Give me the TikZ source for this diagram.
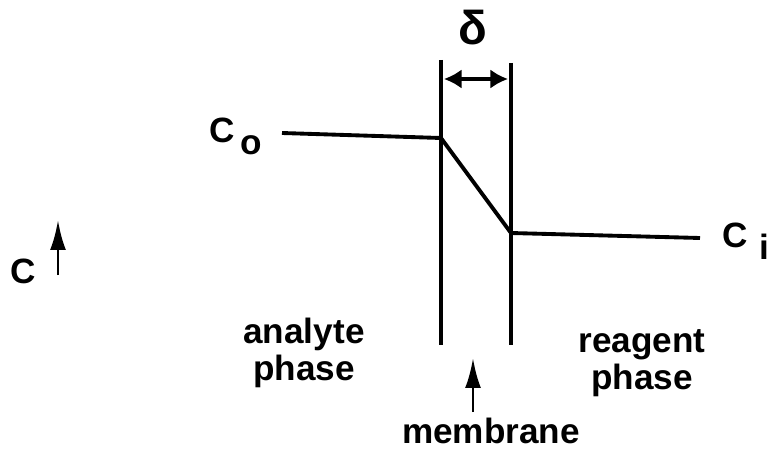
\documentclass[tikz,border=0pt]{standalone}
\usepackage{fontspec}
\setmainfont{Liberation Sans}
\usetikzlibrary{arrows.meta}

\begin{document}
\begin{tikzpicture}[x=0.02cm, y=-0.02cm,
    lbl/.style={font=\fontsize{20}{21}\selectfont\bfseries, align=center, inner sep=0pt},
    wall/.style={line width=2.2pt},
    prof/.style={line width=2.2pt},
    uparr/.style={line width=1.7pt, -{Latex[length=17pt,width=9pt]}},
    dblarr/.style={line width=1.8pt, {Latex[length=10pt,width=11pt]}-{Latex[length=10pt,width=11pt]}}]
  \useasboundingbox (0,0) rectangle (771,456);
  % membrane walls
  \coordinate (lt) at (441,60);  \coordinate (lb) at (441,345);
  \coordinate (rt) at (511,63);  \coordinate (rb) at (511,345);
  \draw[wall] (lt) -- (lb);
  \draw[wall] (rt) -- (rb);
  % thickness delta
  \coordinate (dl) at (444,79);  \coordinate (dr) at (508,79);
  \draw[dblarr] (dl) -- (dr);
  \node[lbl, font=\fontsize{27}{28}\selectfont\bfseries, anchor=base] (delta) at (473,45) {δ};
  % concentration profile
  \node[lbl, anchor=base west] (c0) at (209,143) {C\,\raisebox{-6.8pt}{o}};
  \node[lbl, anchor=base west] (ci) at (722,247) {C\,\,\raisebox{-7pt}{i}};
  \coordinate (p0) at (282,133); \coordinate (p1) at (441,138);
  \coordinate (p2) at (511,233); \coordinate (p3) at (700,238);
  \draw[prof] (p0) -- (p1) -- (p2) -- (p3);
  % concentration axis
  \node[lbl, anchor=base] (c) at (23,283) {C};
  \coordinate (ca) at (58,275); \coordinate (cb) at (58,220);
  \draw[uparr] (ca) -- (cb);
  % phases
  \node[lbl] (ana) at (304,353) {analyte\\phase};
  \node[lbl] (rea) at (642,363) {reagent\\phase};
  \node[lbl, anchor=base] (mem) at (491,443) {membrane};
  \coordinate (mtip) at (473,358);
  \coordinate (mtail) at (473,412);
  \draw[uparr] (mtail) -- (mtip);
\end{tikzpicture}
\end{document}
